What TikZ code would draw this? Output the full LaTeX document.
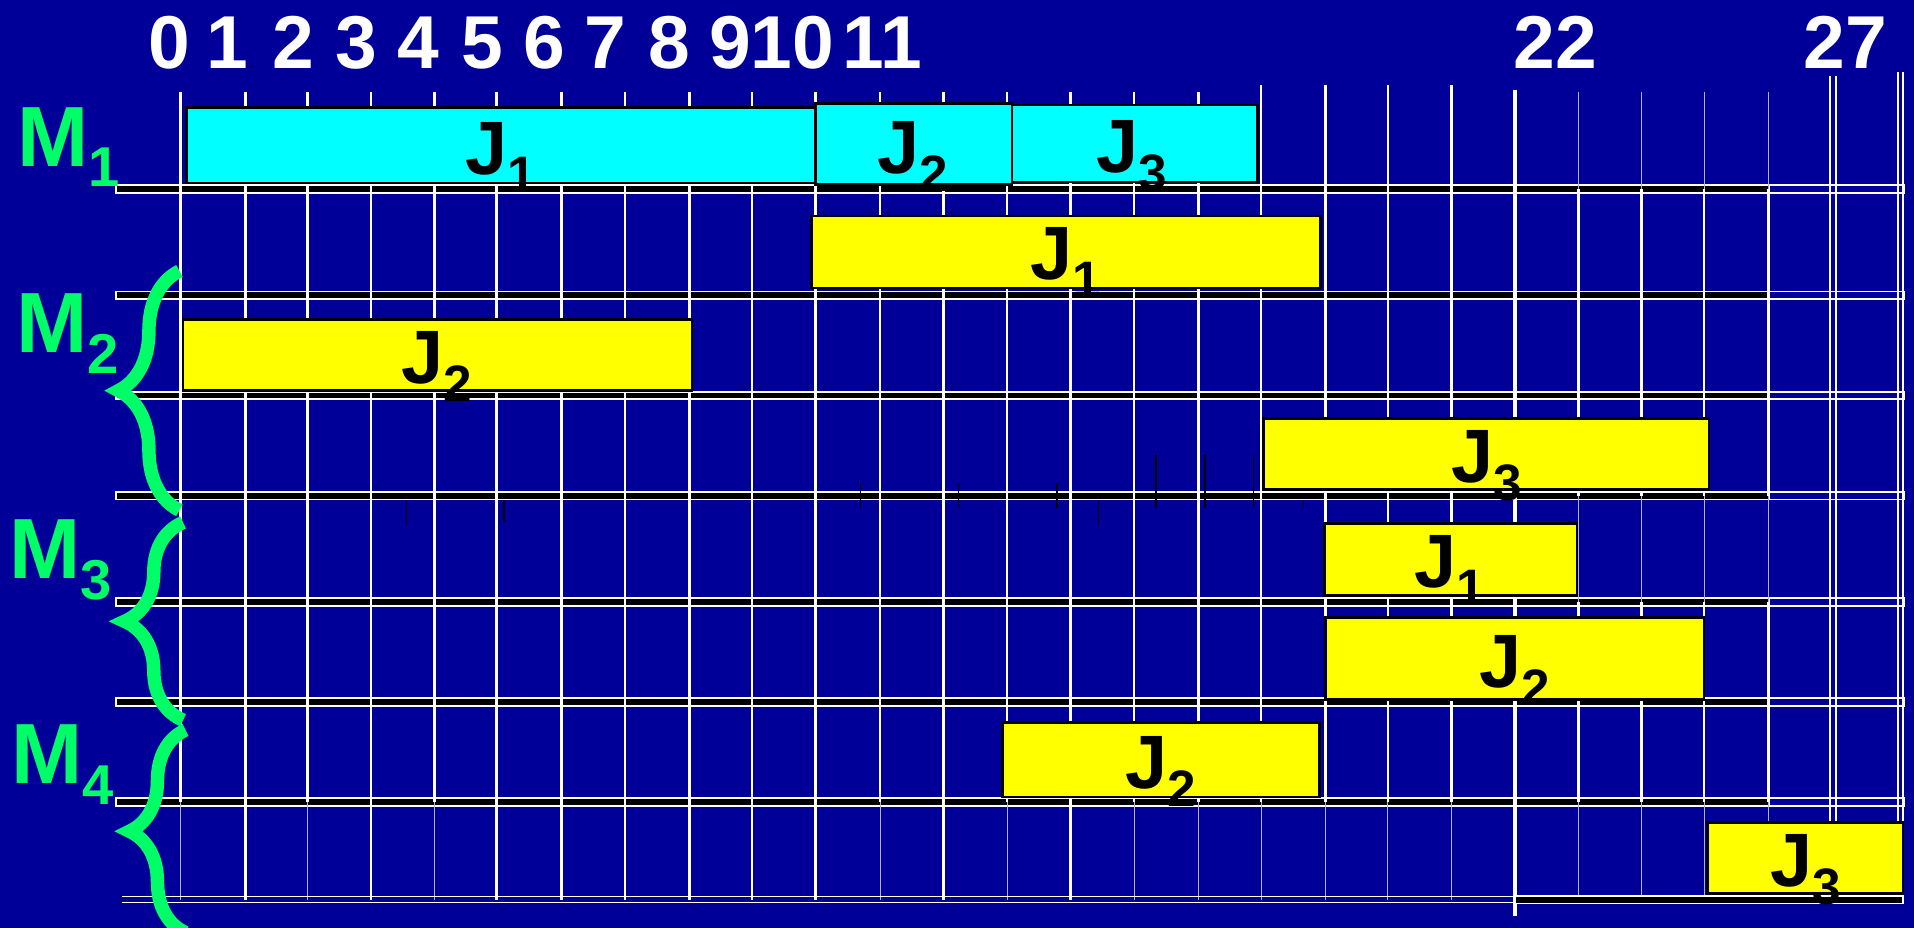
\documentclass[tikz,border=0pt]{standalone}
\usepackage{fontspec}
\setmainfont{Liberation Sans}
\usetikzlibrary{decorations.pathreplacing,fit}
\definecolor{bgblue}{RGB}{0,0,153}
\definecolor{mgreen}{RGB}{0,255,102}
\definecolor{jcyan}{RGB}{0,255,255}
\definecolor{jyellow}{RGB}{255,255,0}
\newcommand{\Jsub}[1]{J\raisebox{-7.5pt}{\fontsize{21}{21}\selectfont #1}}
\newcommand{\Msub}[1]{M\raisebox{-8.5pt}{\fontsize{23}{23}\selectfont #1}}
\begin{document}
\begin{tikzpicture}[x=0.5pt,y=-0.5pt,
  gridline/.style={draw=white,line width=1.1pt},
  thingrid/.style={draw=white!70!bgblue,line width=0.35pt},
  barbox/.style={draw=white,fill=black,line width=0.75pt},
  barend/.style={draw=white,fill=bgblue,line width=0.75pt},
  jbox/.style={draw=black,line width=1.1pt,inner sep=0pt,rectangle},
  cyanbox/.style={jbox,fill=jcyan},
  yelbox/.style={jbox,fill=jyellow},
  jlab/.style={anchor=base,inner sep=0pt,font=\fontsize{31}{31}\selectfont\bfseries,text=black},
  mlab/.style={anchor=base west,inner sep=0pt,font=\fontsize{35}{35}\selectfont\bfseries,text=mgreen},
  numlab/.style={anchor=base,inner sep=0pt,font=\fontsize{30.7}{30}\selectfont\bfseries,text=white},
  brc/.style={draw=mgreen,line width=5.5pt,decorate,decoration={brace,amplitude=#1}},
  tickmark/.style={draw=black,line width=0.6pt}
]
% background and frame
\fill[bgblue] (0,0) rectangle (1568,760);
\useasboundingbox (0,0) rectangle (1568,760);

% machine row bars
\foreach \y in {155,242,324,406,493,575,657}{
  \draw[barbox] (95,\y-3.2) rectangle (1449,\y+3.2);
  \draw[barend] (1449,\y-3.2) rectangle (1560,\y+3.2);
}

% vertical grid lines
\foreach \x in {148,201,252,304,356,407,460,512,565,616,668,721,773,825,877,929,982}
  \draw[gridline] (\x,75) -- (\x,657);
\foreach \x in {1033,1086,1137,1189}
  \draw[gridline] (\x,70) -- (\x,657);
\foreach \x in {1293,1345,1396,1449}{
  \draw[thingrid] (\x,75) -- (\x,155);
  \draw[gridline] (\x,155) -- (\x,406);
  \draw[thingrid] (\x,406) -- (\x,493);
  \draw[gridline] (\x,493) -- (\x,657);
  \draw[thingrid] (\x,657) -- (\x,737);
}
\foreach \x in {201,304,407,460,512,565,616,668,773,877}
  \draw[gridline] (\x,657) -- (\x,737);
\foreach \x in {148,252,356,721,825,929,982,1033,1086,1137,1189}
  \draw[thingrid] (\x,657) -- (\x,737);
\draw[gridline,line width=1.6pt] (1241,74) -- (1241,750);
\draw[gridline,line width=0.7pt] (1499,62) -- (1499,740) (1504,62) -- (1504,740);
\draw[gridline,line width=0.7pt] (1555,59) -- (1555,740) (1559,59) -- (1559,740);

% bottom line
\draw[white,line width=0.6pt] (100,734.5) -- (1241,734.5) (100,739.5) -- (1241,739.5);
\draw[barbox,line width=0.6pt] (1241,734) rectangle (1559,740);

% job boxes
\node[cyanbox,fit={(153,88) (668,150)}] (m1j1) {};
\node[cyanbox,fit={(668,85) (829,151)}] (m1j2) {};
\node[cyanbox,fit={(829,86) (1030,149)}] (m1j3) {};
\node[yelbox,fit={(665,177) (1082,236)}] (m2j1) {};
\node[yelbox,fit={(150,262) (567,320)}] (m2j2) {};
\node[yelbox,fit={(1035,343) (1400,401)}] (m2j3) {};
\node[yelbox,fit={(1085,429) (1292,488)}] (m3j1) {};
\node[yelbox,fit={(1086,506) (1396,573)}] (m3j2) {};
\node[yelbox,fit={(821,592) (1081,653)}] (m4j2) {};
\node[yelbox,fit={(1399,674) (1559,732)}] (m4j3) {};

% job labels
\node[jlab] (m1j1t) at (410,143) {\Jsub{1}};
\node[jlab] (m1j2t) at (748,142) {\Jsub{2}};
\node[jlab] (m1j3t) at (927,141) {\Jsub{3}};
\node[jlab] (m2j1t) at (873,229) {\Jsub{1}};
\node[jlab] (m2j2t) at (358,314) {\Jsub{2}};
\node[jlab] (m2j3t) at (1218,395) {\Jsub{3}};
\node[jlab] (m3j1t) at (1188,481) {\Jsub{1}};
\node[jlab] (m3j2t) at (1241,563) {\Jsub{2}};
\node[jlab] (m4j2t) at (951,646) {\Jsub{2}};
\node[jlab] (m4j3t) at (1479,726) {\Jsub{3}};

% small black marks
\draw[tickmark] (333,410) -- (333,430) (413,410) -- (413,428)
  (705,396) -- (705,416) (785,396) -- (785,416) (866,396) -- (866,416)
  (900,410) -- (900,430) (947,373) -- (947,416) (987,373) -- (987,416)
  (1027,373) -- (1027,416) (1068,410) -- (1068,416);

% machine labels
\node[mlab] (mach1) at (14,136) {\Msub{1}};
\node[mlab] (mach2) at (13,289) {\Msub{2}};
\node[mlab] (mach3) at (7,474) {\Msub{3}};
\node[mlab] (mach4) at (9,642) {\Msub{4}};

% braces
\draw[brc=25pt] (147,418) -- (147,222);
\draw[brc=24pt] (150,590) -- (150,428);
\draw[brc=23pt] (152,764) -- (152,598);

% time axis numbers
\node[numlab] (t0) at (139,56) {0};
\node[numlab] (t1) at (186,56) {1};
\node[numlab] (t2) at (240,56) {2};
\node[numlab] (t3) at (292,56) {3};
\node[numlab] (t4) at (343,56) {4};
\node[numlab] (t5) at (395,56) {5};
\node[numlab] (t6) at (446,56) {6};
\node[numlab] (t7) at (496,56) {7};
\node[numlab] (t8) at (548,56) {8};
\node[numlab] (t9) at (598,56) {9};
\node[numlab] (t10) at (649,56) {10};
\node[numlab] (t11) at (723,56) {11};
\node[numlab] (t22) at (1274,56) {22};
\node[numlab] (t27) at (1512,56) {27};
\end{tikzpicture}
\end{document}
